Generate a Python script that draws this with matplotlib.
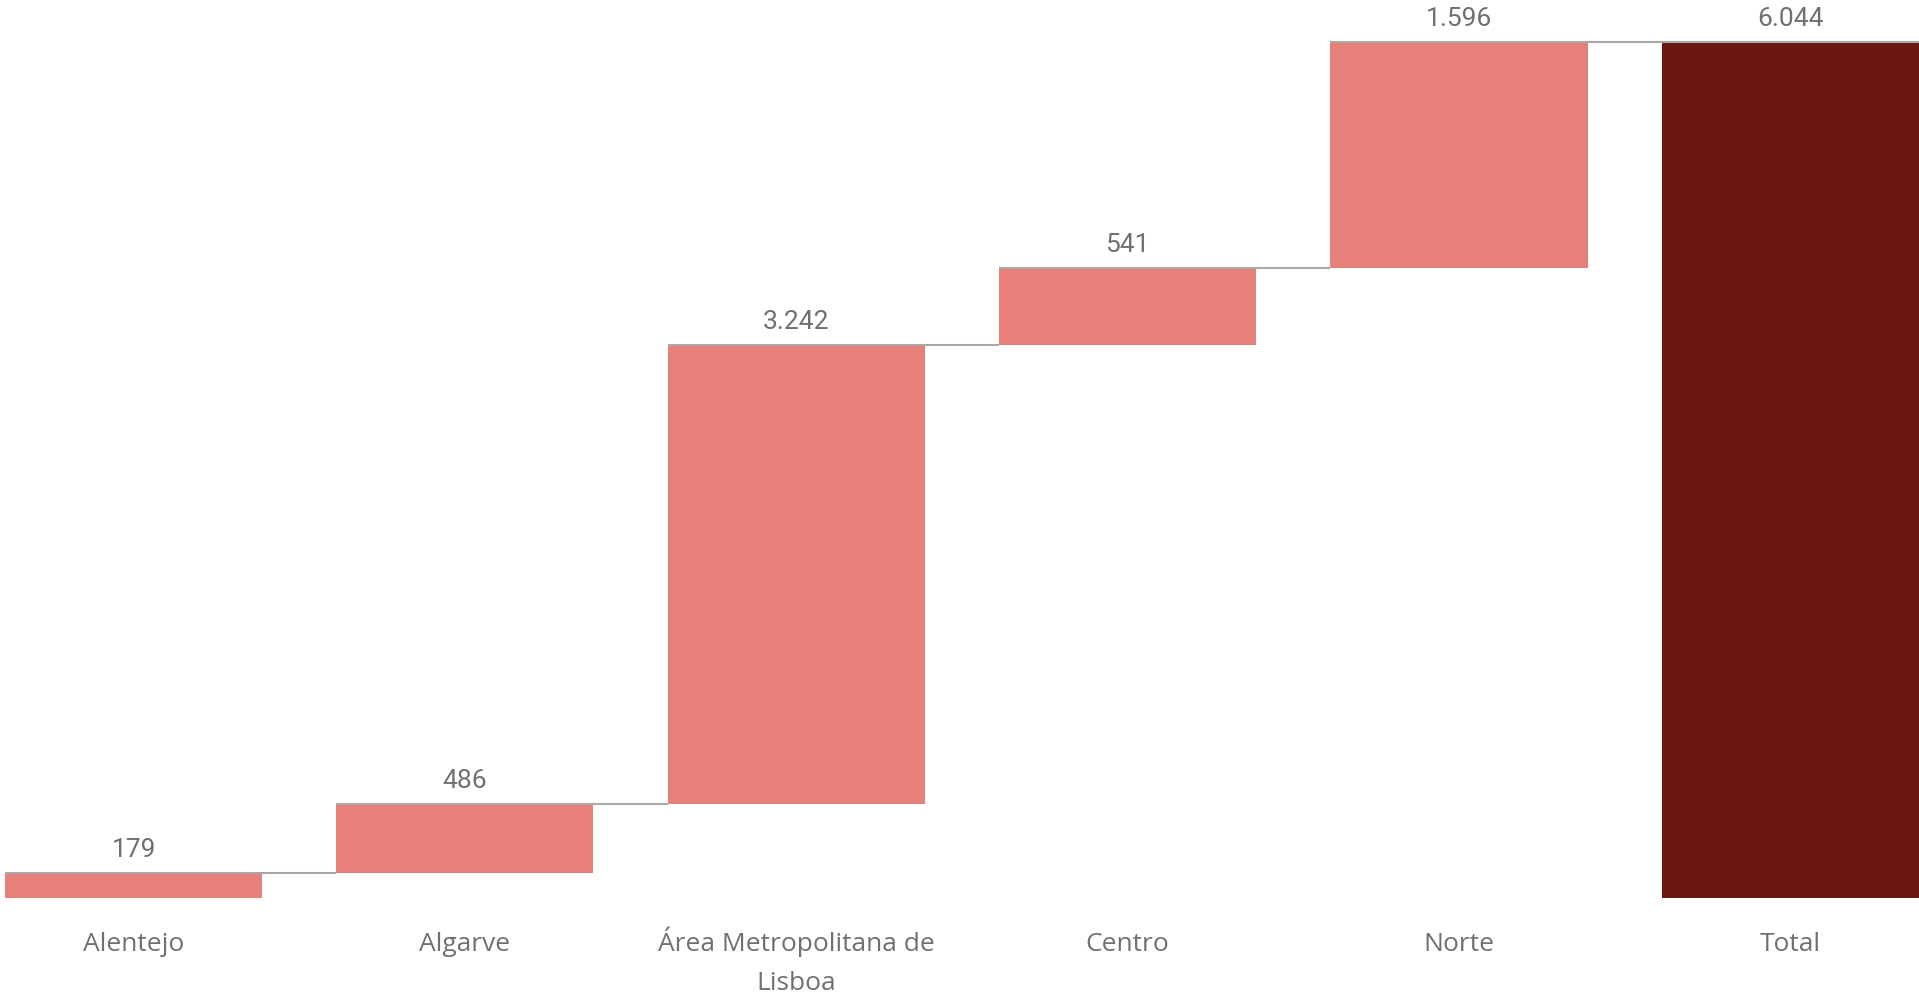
import matplotlib
matplotlib.use("Agg")
import matplotlib.pyplot as plt
from matplotlib import font_manager
import numpy as np

# dados
categorias = ["Alentejo", "Algarve", "Área Metropolitana de\nLisboa", "Centro", "Norte"]
valores = [179, 486, 3242, 541, 1596]
rotulo_total = "Total"

cor_barra = "#E8807A"
cor_total = "#6B1711"
cor_linha = "#A8A8A8"
cor_texto = "#707070"

# fonte estreita para os valores (a primeira que existir)
instaladas = {f.name for f in font_manager.fontManager.ttflist}
fonte_valor, tam_valor = "DejaVu Sans", 18
for nome, tam in [("Liberation Sans Narrow", 21), ("DejaVu Sans Condensed", 18.5),
                  ("Roboto", 19)]:
    if nome in instaladas:
        fonte_valor, tam_valor = nome, tam
        break

total = sum(valores)
fim = np.cumsum(valores)
inicio = fim - np.array(valores)

fig = plt.figure(figsize=(19.19, 9.96), dpi=100)
ax = fig.add_axes([0, 98 / 996, 1, 898 / 996])

largura = 0.776
x = np.arange(len(categorias) + 1)

# barras das regioes
ax.bar(x[:-1], valores, bottom=inicio, width=largura, color=cor_barra, zorder=2)
# barra do total
ax.bar(x[-1], total, width=largura, color=cor_total, zorder=2)

# linhas de ligacao
for i in range(len(valores)):
    ax.hlines(fim[i], x[i] - largura / 2, x[i + 1] - largura / 2,
              color=cor_linha, linewidth=1.5, zorder=3)
ax.hlines(total, x[-1] - largura / 2, x[-1] + largura / 2,
          color=cor_linha, linewidth=1.5, zorder=3)

# rotulos de valor
tops = list(fim) + [total]
rotulos = valores + [total]
for xi, topo, v in zip(x, tops, rotulos):
    ax.annotate(f"{v:,}".replace(",", "."), (xi, topo),
                xytext=(0, 11.5), textcoords="offset points",
                ha="center", va="baseline", fontsize=tam_valor,
                color=cor_texto, family=fonte_valor)

# rotulos das categorias (baseline da ultima linha)
for xi, nome in zip(x, categorias + [rotulo_total]):
    n_linhas = nome.count("\n") + 1
    y = -(53 + 39 * (n_linhas - 1)) / 898
    ax.text(xi, y, nome, transform=ax.get_xaxis_transform(),
            ha="center", va="baseline", fontsize=19, color=cor_texto,
            family="Open Sans", linespacing=1.73, multialignment="center")

ax.set_xlim(-0.403, 5.388)
ax.set_ylim(0, total * 898 / 856)
ax.set_xticks([])
ax.set_yticks([])
for s in ax.spines.values():
    s.set_visible(False)

fig.savefig("out.png", dpi=100, facecolor="white")
